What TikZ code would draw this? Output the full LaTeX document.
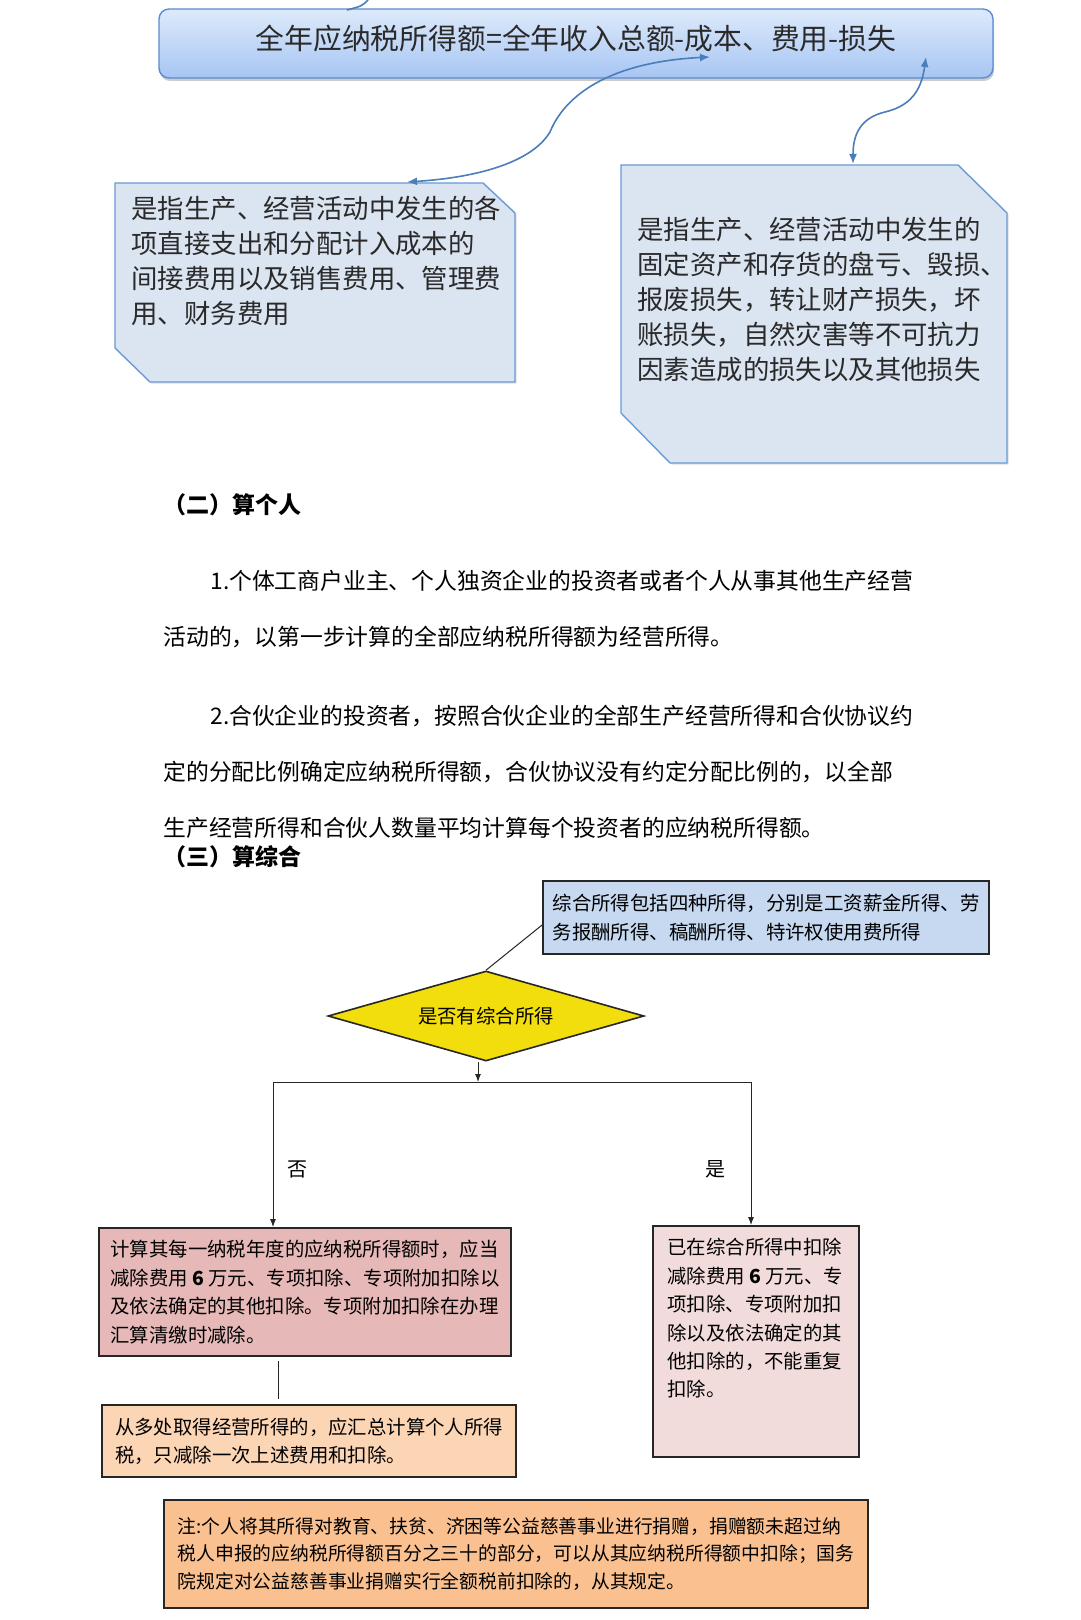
\documentclass[tikz,border=0pt]{standalone}
\usepackage{fontspec}
\setmainfont{Noto Sans CJK SC}
\usetikzlibrary{shapes.geometric,arrows.meta,shadows}

\definecolor{formtop}{HTML}{DDEAFB}
\definecolor{formbot}{HTML}{A7C5F3}
\definecolor{formline}{HTML}{5B8BD0}
\definecolor{callfill}{HTML}{DBE5F1}
\definecolor{callline}{HTML}{6A9BD6}
\definecolor{curvecol}{HTML}{4A7EBB}
\definecolor{infofill}{HTML}{C6D9F1}
\definecolor{askfill}{HTML}{F2DE0C}
\definecolor{nofill}{HTML}{E6B9B8}
\definecolor{multifill}{HTML}{FCD5B5}
\definecolor{yesfill}{HTML}{F2DCDB}
\definecolor{notefill}{HTML}{FAC090}
\definecolor{inkgray}{HTML}{2A2A2A}

\tikzset{
  cutbox/.style={draw=callline,fill=callfill,line width=0.7pt,
    drop shadow={shadow xshift=0.8pt,shadow yshift=-0.8pt,opacity=0.25}},
  calltext/.style={anchor=north west,inner sep=0pt,align=left,text=inkgray,
    font=\fontsize{13.2}{17.5}\selectfont},
  bodytext/.style={anchor=north west,inner sep=0pt,align=left,
    font=\fontsize{11.4}{28}\selectfont},
  headtext/.style={anchor=west,inner sep=0pt,font=\fontsize{11.5}{13}\selectfont\bfseries},
  flowbox/.style={draw=black!85,line width=0.9pt,align=left,inner sep=0pt,
    font=\fontsize{9.7}{14.2}\selectfont},
  flowtext/.style={anchor=north west,inner sep=0pt,align=left,
    font=\fontsize{9.7}{14.2}\selectfont},
  labeltext/.style={inner sep=0pt,font=\fontsize{10}{12}\selectfont},
  swing/.style={draw=curvecol,line width=0.8pt,
    {Latex[length=5pt,width=4pt]}-{Latex[length=5pt,width=4pt]}},
  wire/.style={draw=black!85,line width=0.5pt},
  wirearrow/.style={wire,-{Latex[length=4pt,width=3pt]}},
}

\begin{document}
\begin{tikzpicture}[x=0.5pt,y=-0.5pt]
  \useasboundingbox[fill=white] (0,0) rectangle (1080,1620);

  \node[draw=formline,line width=0.7pt,rounded corners=5pt,top color=formtop,bottom color=formbot,
    drop shadow={shadow xshift=0.5pt,shadow yshift=-1.5pt,opacity=0.4},
    minimum width=417pt,minimum height=34.5pt,inner sep=0pt,text=inkgray,text depth=6pt,
    font=\fontsize{14.4}{17}\selectfont] (formula) at (576,43.5)
    {全年应纳税所得额=全年收入总额-成本、费用-损失};
  \coordinate (prevend) at (368,0);
  \coordinate (formin) at (347,10);
  \draw[curvecol,line width=0.8pt] (prevend) .. controls (362,6) .. (formin);

  \draw[cutbox] (115,183) -- (483,183) -- (515,213) -- (515,382) -- (150,382) -- (115,348) -- cycle;
  \node[calltext] (costtext) at (131,196)
    {是指生产、经营活动中发生的各\\项直接支出和分配计入成本的\\间接费用以及销售费用、管理费\\用、财务费用};

  \draw[cutbox] (621,165) -- (958,165) -- (1007,213) -- (1007,463) -- (670,463) -- (621,413) -- cycle;
  \node[calltext] (losstext) at (637,217)
    {是指生产、经营活动中发生的\\固定资产和存货的盘亏、毁损、\\报废损失，转让财产损失，坏\\账损失，自然灾害等不可抗力\\因素造成的损失以及其他损失};

  \coordinate (costtip) at (407,182);
  \coordinate (formcost) at (710,57);
  \draw[swing] (costtip) .. controls (470,178) and (530,165) .. (550,132)
    .. controls (565,95) and (610,62) .. (formcost);
  \coordinate (losstip) at (853,164);
  \coordinate (formloss) at (926,57);
  \draw[swing] (losstip) .. controls (853,135) and (860,118) .. (885,112)
    .. controls (915,105) and (922,85) .. (formloss);

  \node[headtext] (parttwo) at (163,505) {（二）算个人};
  \node[bodytext] (itemone) at (163,570)
    {\hspace*{23.5pt}1.个体工商户业主、个人独资企业的投资者或者个人从事其他生产经营\\活动的，以第一步计算的全部应纳税所得额为经营所得。};
  \node[bodytext] (itemtwo) at (163,705)
    {\hspace*{23.5pt}2.合伙企业的投资者，按照合伙企业的全部生产经营所得和合伙协议约\\定的分配比例确定应纳税所得额，合伙协议没有约定分配比例的，以全部\\生产经营所得和合伙人数量平均计算每个投资者的应纳税所得额。};
  \node[headtext] (partthree) at (163,857) {（三）算综合};

  \node[flowbox,fill=infofill,minimum width=223pt,minimum height=36.5pt] (info) at (766,917.5)
    {综合所得包括四种所得，分别是工资薪金所得、劳\\务报酬所得、稿酬所得、特许权使用费所得};
  \node[draw=black!85,line width=0.8pt,fill=askfill,shape=diamond,aspect=3.5,
    minimum width=158pt,minimum height=45pt,inner sep=0pt,
    font=\fontsize{9.7}{12}\selectfont] (ask) at (486,1016) {是否有综合所得};

  \node[flowbox,fill=nofill,minimum width=206pt,minimum height=64pt] (nocase) at (305,1292)
    {计算其每一纳税年度的应纳税所得额时，应当\\减除费用 \textbf{6} 万元、专项扣除、专项附加扣除以\\及依法确定的其他扣除。专项附加扣除在办理\\汇算清缴时减除。};
  \node[flowbox,fill=yesfill,minimum width=103pt,minimum height=115.5pt] (yescase) at (756,1341.5) {};
  \node[flowtext] (yestext) at (667,1238)
    {已在综合所得中扣除\\减除费用 \textbf{6} 万元、专\\项扣除、专项附加扣\\除以及依法确定的其\\他扣除的，不能重复\\扣除。};
  \node[flowbox,fill=multifill,minimum width=207pt,minimum height=36pt] (multi) at (309,1441)
    {从多处取得经营所得的，应汇总计算个人所得\\税，只减除一次上述费用和扣除。};
  \node[flowbox,fill=notefill,minimum width=352pt,minimum height=54pt,
    font=\fontsize{9.4}{13.8}\selectfont] (note) at (516,1554)
    {注:个人将其所得对教育、扶贫、济困等公益慈善事业进行捐赠，捐赠额未超过纳\\税人申报的应纳税所得额百分之三十的部分，可以从其应纳税所得额中扣除；国务\\院规定对公益慈善事业捐赠实行全额税前扣除的，从其规定。};

  \draw[wire] ([yshift=-3.75pt]info.west) -- (ask.north);
  \coordinate (split) at (478,1082);
  \draw[wirearrow] ([xshift=-4pt]ask.south) -- (split);
  \draw[wirearrow] (split) -| ([xshift=-16pt]nocase.north);
  \draw[wirearrow] (split) -| ([xshift=-2.5pt]yescase.north);
  \node[labeltext] (nolabel) at (297,1169) {否};
  \node[labeltext] (yeslabel) at (715,1169) {是};
  \draw[wire] ([xshift=-13.5pt,yshift=-2pt]nocase.south) -- ([xshift=-15.5pt,yshift=2.5pt]multi.north);
\end{tikzpicture}
\end{document}
